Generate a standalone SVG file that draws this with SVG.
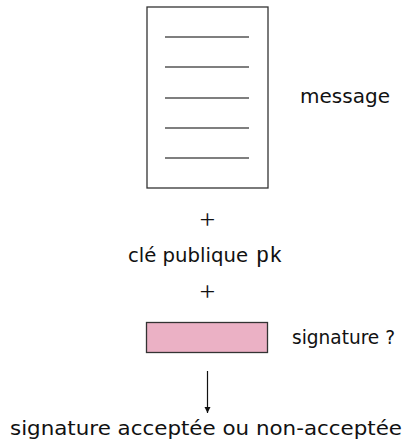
<svg xmlns="http://www.w3.org/2000/svg" width="408" height="443" viewBox="0 0 408 443">
<style>
.t{font-family:"DejaVu Sans","Liberation Sans",sans-serif;font-size:20px;fill:#111}
.m{font-family:"Liberation Mono","DejaVu Sans Mono",monospace;font-size:22px;fill:#111}
.p{font-family:"Liberation Serif","DejaVu Serif",serif;font-size:28px;fill:#111}
.ln{stroke:#555;stroke-width:1.5}
.bx{stroke:#333;stroke-width:1.3}
</style>
<defs>
<marker id="ah" viewBox="0 0 10 10" refX="10" refY="5" markerWidth="6" markerHeight="8" markerUnits="userSpaceOnUse" orient="auto"><path d="M0,0 L10,5 L0,10 Z" fill="#111"/></marker>
</defs>
<g id="message">
<rect class="bx" x="147" y="7" width="121" height="181" fill="#fff"/>
<line class="ln" x1="165" y1="37" x2="249" y2="37"/>
<line class="ln" x1="165" y1="67" x2="249" y2="67"/>
<line class="ln" x1="165" y1="98" x2="249" y2="98"/>
<line class="ln" x1="165" y1="128" x2="249" y2="128"/>
<line class="ln" x1="165" y1="158" x2="249" y2="158"/>
<text class="t" x="300" y="103" textLength="90" lengthAdjust="spacingAndGlyphs">message</text>
</g>
<g id="plus1"><text class="p" x="207.5" y="229" text-anchor="middle">+</text></g>
<g id="cle"><text class="t" x="128" y="262" textLength="120" lengthAdjust="spacingAndGlyphs">clé publique</text><text class="m" x="256" y="262">pk</text></g>
<g id="plus2"><text class="p" x="207.5" y="301" text-anchor="middle">+</text></g>
<g id="signature">
<rect class="bx" x="146.5" y="322.5" width="121" height="30" fill="#ebb1c5"/>
<text class="t" x="292" y="344" textLength="103" lengthAdjust="spacingAndGlyphs">signature ?</text>
</g>
<g id="connectors">
<line x1="207.5" y1="371" x2="207.5" y2="413" stroke="#111" stroke-width="1.2" marker-end="url(#ah)"/>
</g>
<g id="result"><text class="t" x="10" y="435" textLength="392" lengthAdjust="spacingAndGlyphs">signature acceptée ou non-acceptée</text></g>
</svg>
